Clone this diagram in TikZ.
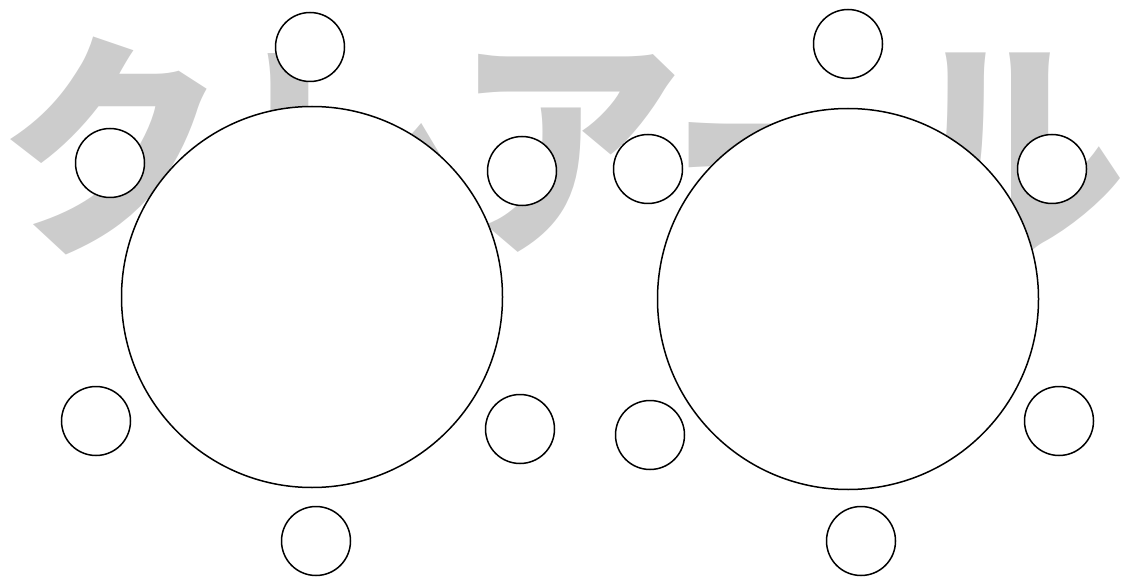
\documentclass[tikz,border=0pt]{standalone}
\usepackage{fontspec}
\newfontfamily\cjk{Noto Sans CJK JP}
\tikzset{
  table/.style={circle,draw=black,line width=1.5pt,fill=white,minimum size=381pt,inner sep=0pt},
  seat/.style={circle,draw=black,line width=1.5pt,fill=white,minimum size=69pt,inner sep=0pt},
  watermark/.style={text=black!20,inner sep=0pt}
}
\begin{document}
\begin{tikzpicture}[x=1pt,y=-1pt]
\useasboundingbox (0,0) rectangle (1137,577);
\node[watermark,anchor=center,xscale=0.95,yscale=0.99] (wm) at (562,146) {\cjk\bfseries\fontsize{240}{240}\selectfont クレアール};
% left table
\node[table] (t1) at (312,297) {};
\node[seat] (a1) at (310,47) {};
\node[seat] (a2) at (110,163) {};
\node[seat] (a3) at (522,171) {};
\node[seat] (a4) at (96,421) {};
\node[seat] (a5) at (520,429) {};
\node[seat] (a6) at (316,541) {};
% right table
\node[table] (t2) at (848,299) {};
\node[seat] (b1) at (848,44) {};
\node[seat] (b2) at (648,169) {};
\node[seat] (b3) at (1052,169) {};
\node[seat] (b4) at (650,435) {};
\node[seat] (b5) at (1059,421) {};
\node[seat] (b6) at (861,541) {};
\end{tikzpicture}
\end{document}
